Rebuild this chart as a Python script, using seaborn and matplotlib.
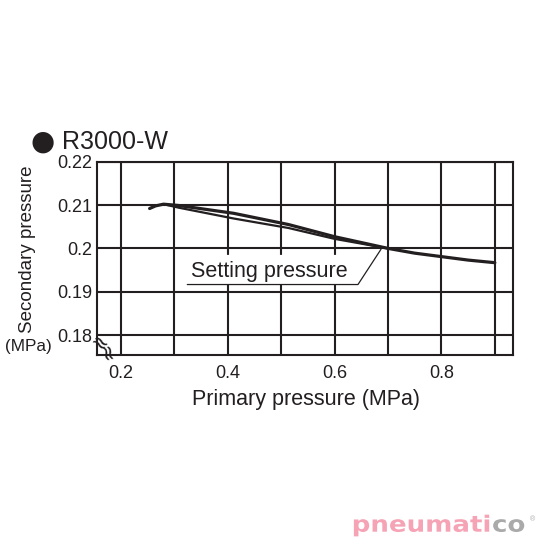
import numpy as np
import pandas as pd
import seaborn as sns
import matplotlib.pyplot as plt
from matplotlib.textpath import TextPath
from matplotlib.patches import PathPatch
from matplotlib.font_manager import FontProperties
from matplotlib.transforms import Affine2D

# curve (primary pressure vs secondary pressure, MPa)
upper_x = [0.254, 0.265, 0.28, 0.308, 0.411, 0.514, 0.6, 0.7, 0.75, 0.8, 0.85, 0.9]
upper_y = [0.2092, 0.2098, 0.2102, 0.2099, 0.2081, 0.2055, 0.2027, 0.2000, 0.1989, 0.1981, 0.1973, 0.1967]
lower_x = [0.28, 0.308, 0.411, 0.514, 0.6, 0.7]
lower_y = [0.2102, 0.2094, 0.2069, 0.2047, 0.2022, 0.2000]

x_major = [0.2, 0.4, 0.6, 0.8]
x_minor = [0.3, 0.5, 0.7, 0.9]
y_ticks = [0.18, 0.19, 0.20, 0.21, 0.22]
y_labels = ["0.18", "0.19", "0.2", "0.21", "0.22"]

# "Setting pressure" leader line
leader_x = [0.3245, 0.6439, 0.687]
leader_y = [0.19166, 0.19166, 0.1998]

ink = '#231f20'

sns.set_theme(style="white")
plt.rcParams['font.family'] = ['Liberation Sans', 'DejaVu Sans']

fig = plt.figure(figsize=(5.4, 5.4), dpi=100)
ax = fig.add_axes([96.7 / 540, 1 - 355 / 540, (513 - 96.7) / 540, (355 - 161.7) / 540])

up = pd.DataFrame({'x': upper_x, 'y': upper_y})
lo = pd.DataFrame({'x': lower_x, 'y': lower_y})
sns.lineplot(data=up, x='x', y='y', sort=False, estimator=None, color=ink, lw=2.3, ax=ax, zorder=3)
sns.lineplot(data=lo, x='x', y='y', sort=False, estimator=None, color=ink, lw=1.6, ax=ax, zorder=3)

ax.set_xlim(0.155, 0.934)
ax.set_ylim(0.1754, 0.22)
ax.set_xticks(x_major)
ax.set_xticks(x_minor, minor=True)
ax.set_xticklabels([f"{v:g}" for v in x_major], fontsize=13)
ax.set_yticks(y_ticks)
ax.set_yticklabels(y_labels, fontsize=13)
ax.tick_params(axis='x', which='both', length=0, pad=7, colors=ink)
ax.tick_params(axis='y', length=0, pad=3, colors=ink)
ax.set_axisbelow(True)
ax.grid(True, which='both', color=ink, lw=1.5)
for s in ax.spines.values():
    s.set_color(ink)
    s.set_linewidth(1.5)
ax.set_xlabel("")
ax.set_ylabel("")

# setting pressure label
box_x = [leader_x[0], leader_x[1], 0.680, leader_x[0]]
box_y = [leader_y[0], leader_y[1], 0.1985, 0.1985]
ax.fill(box_x, box_y, color='white', zorder=1.5, lw=0)
ax.plot(leader_x, leader_y, color=ink, lw=0.9, zorder=2)
ax.text(0.331, 0.19344, "Setting pressure", fontsize=15.5, color=ink, zorder=2.5)

# title and labels
fig.text(43 / 540, 1 - 142 / 540, "\u25CF", fontsize=20, ha='center', va='center', color=ink,
         family=['DejaVu Sans'])
fig.text(62 / 540, 1 - 142 / 540, "R3000-W", fontsize=18, ha='left', va='center', color=ink)
fig.text(306 / 540, 1 - 400 / 540, "Primary pressure (MPa)", fontsize=15.5, ha='center', va='center',
         color=ink)
fig.text(27.6 / 540, 1 - 249 / 540, "Secondary pressure", fontsize=13.5, rotation=90, ha='center',
         va='center', color=ink)
fig.text(28.5 / 540, 1 - 347 / 540, "(MPa)", fontsize=12.3, ha='center', va='center', color=ink)

# axis break marks
fig.text(99 / 540, 1 - 344 / 540, "\u2248", fontsize=15, ha='center', va='center', rotation=-35,
         color=ink, family=['DejaVu Sans'])
fig.text(105 / 540, 1 - 355 / 540, "\u2248", fontsize=15, ha='center', va='center', rotation=-75,
         color=ink, family=['DejaVu Sans'])

# watermark
wm_font = FontProperties(family='DejaVu Sans', weight='bold')
p1 = TextPath((0, 0), "pneumati", size=16, prop=wm_font)
p2 = TextPath((0, 0), "co", size=16, prop=wm_font)
t1 = Affine2D().scale(1.63 / 540, 1.4 / 540).translate(351.7 / 540, 8.3 / 540) + fig.transFigure
t2 = Affine2D().scale(1.63 / 540, 1.4 / 540).translate(492 / 540, 8.3 / 540) + fig.transFigure
fig.add_artist(PathPatch(p1, transform=t1, color='#f5a3b5', lw=0))
fig.add_artist(PathPatch(p2, transform=t2, color='#aaaaaa', lw=0))
fig.text(533 / 540, 1 - 520 / 540, "\u00AE", fontsize=5, ha='center', va='center', color='#aaaaaa')

fig.savefig("out.png", dpi=100)
